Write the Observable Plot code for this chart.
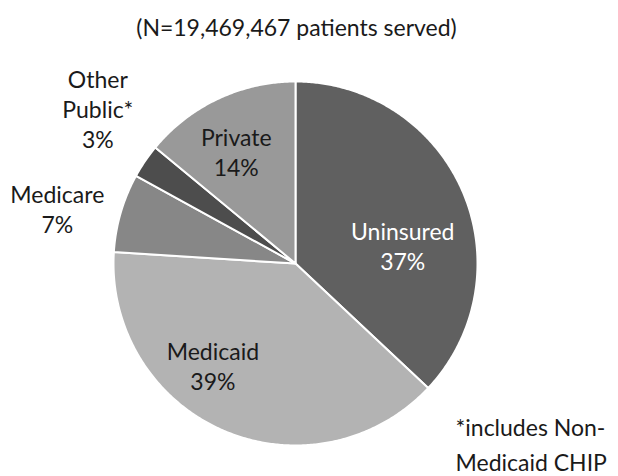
<!DOCTYPE html>
<html>
<head>
<meta charset="utf-8">
<script src="https://cdn.jsdelivr.net/npm/d3@7"></script>
<script src="https://cdn.jsdelivr.net/npm/@observablehq/plot@0.6"></script>
<style>
  html, body { margin: 0; padding: 0; background: #fff; }
</style>
</head>
<body>
<div id="chart"></div>
<script>
// ---- data ----
const categories = ["Uninsured", "Medicaid", "Medicare", "Other Public*", "Private"];
const shares = [37, 39, 7, 3, 14];
const sliceLabels = ["Uninsured\n37%", "Medicaid\n39%", "Medicare\n7%", "Other\nPublic*\n3%", "Private\n14%"];
const sliceColors = ["#606060", "#b3b3b3", "#878787", "#4d4d4d", "#999999"];
const title = "(N=19,469,467 patients served)";
const footnote = "*includes Non-\nMedicaid CHIP";

// ---- layout config (label placement relative to slice mid-angle) ----
const R = 182; // pixels per data unit (pie radius)
const labelLayout = {
  "Uninsured":     {k: 0.6, dx: 7,   dy: 25,  fill: "white"},
  "Medicaid":      {k: 0.7, dx: -32, dy: -15, fill: "#1a1a1a"},
  "Medicare":      {k: 1.3, dx: -11, dy: 11,  fill: "#1a1a1a"},
  "Other Public*": {k: 1.3, dx: -2,  dy: -22, fill: "#1a1a1a"},
  "Private":       {k: 0.7, dx: -5,  dy: 3,   fill: "#1a1a1a"}
};

const rows = categories.map((c, i) => ({category: c, share: shares[i], label: sliceLabels[i]}));
const arcs = d3.pie().sort(null).value(d => d.share)(rows);

// polygon points for each slice (center + arc), derived from pie angles
const slicePts = [];
for (const a of arcs) {
  const cat = a.data.category;
  slicePts.push({category: cat, x: 0, y: 0});
  const n = Math.max(2, Math.ceil((a.endAngle - a.startAngle) / (Math.PI / 360)));
  for (let j = 0; j <= n; j++) {
    const t = a.startAngle + (a.endAngle - a.startAngle) * j / n;
    slicePts.push({category: cat, x: Math.sin(t), y: Math.cos(t)});
  }
}

const labelRows = arcs.map(a => {
  const L = labelLayout[a.data.category];
  const m = (a.startAngle + a.endAngle) / 2;
  return {
    category: a.data.category,
    text: a.data.label,
    fill: L.fill,
    x: L.k * Math.sin(m) + L.dx / R,
    y: L.k * Math.cos(m) - L.dy / R
  };
});

const W = 618, H = 476, cx = 295, cy = 263;

const chart = Plot.plot({
  width: W,
  height: H,
  margin: 0,
  style: {fontFamily: "Lato, 'Open Sans', sans-serif", background: "white"},
  x: {domain: [-cx / R, (W - cx) / R], axis: null},
  y: {domain: [-(H - cy) / R, cy / R], axis: null},
  color: {type: "ordinal", domain: categories, range: sliceColors},
  marks: [
    Plot.line(slicePts, {
      x: "x", y: "y", z: "category", fill: "category",
      stroke: "white", strokeWidth: 2, curve: "linear-closed", strokeLinejoin: "round"
    }),
    Plot.text(labelRows, {
      x: "x", y: "y", text: "text", fill: d => d.fill,
      fontSize: 23, lineHeight: 1.3, textAnchor: "middle", lineAnchor: "middle"
    }),
    Plot.text([title], {
      frameAnchor: "top", dx: -13, dy: 19, text: d => d,
      fontSize: 23, fill: "#1a1a1a", lineAnchor: "top"
    }),
    Plot.text([footnote], {
      frameAnchor: "bottom-left", dx: 455, dy: -6, text: d => d,
      fontSize: 23, fill: "#1a1a1a", textAnchor: "start", lineAnchor: "bottom", lineHeight: 1.5
    })
  ]
});

document.getElementById("chart").appendChild(chart);
</script>
</body>
</html>
